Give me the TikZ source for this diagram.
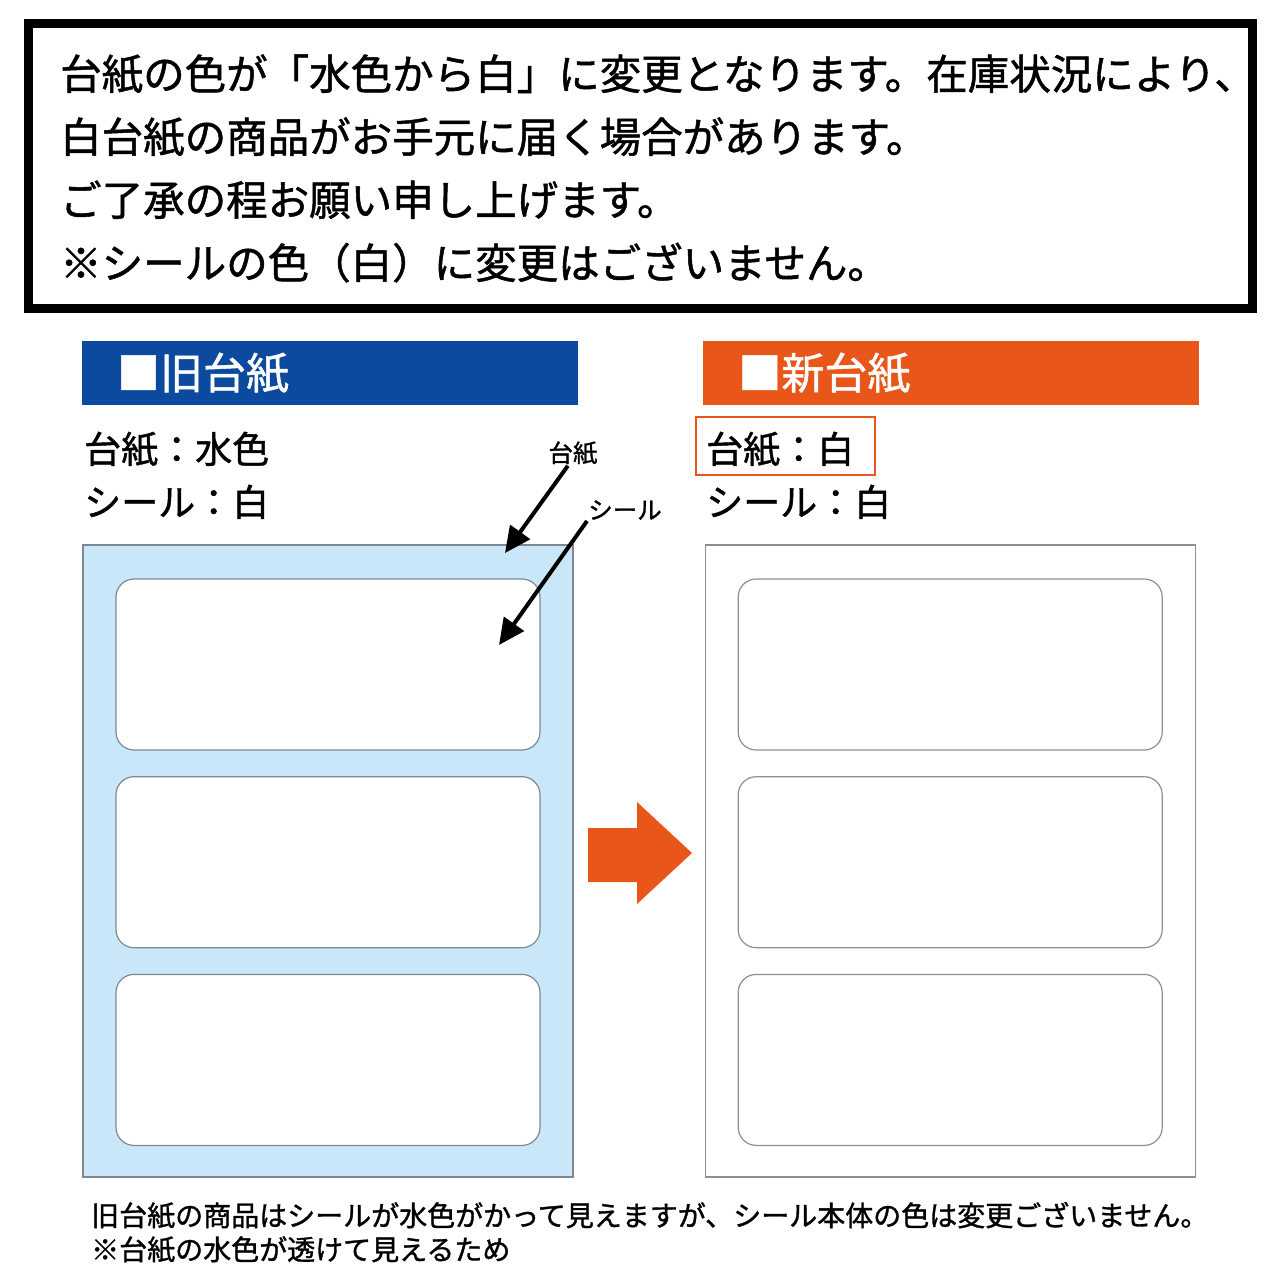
\documentclass[tikz,border=0pt]{standalone}
\usepackage{fontspec}
\setmainfont{Noto Sans CJK JP}[UprightFeatures={FakeBold=1.2}]
\usetikzlibrary{arrows.meta}
\usetikzlibrary{positioning}

\definecolor{oldblue}{HTML}{0B4A9E}
\definecolor{neworange}{HTML}{E8561A}
\definecolor{mizuiro}{HTML}{C9E7F9}
\definecolor{rimgray}{HTML}{7D8893}
\definecolor{newgray}{HTML}{8F8F8F}

\begin{document}
\begin{tikzpicture}[x=1pt,y=-1pt,
    headbar/.style={rectangle,minimum width=496pt,minimum height=64pt,inner ysep=0pt,inner xsep=35pt,
                    text width=426pt,align=left,text=white,font=\fontsize{43}{50}\selectfont},
    infotext/.style={anchor=base west,inner sep=0pt,font=\fontsize{37}{44}\selectfont},
    tagtext/.style={inner sep=1pt,font=\fontsize{24.5}{30}\selectfont},
    sheet/.style={rectangle,minimum width=490pt,minimum height=632pt,line width=1.2pt},
    sticker/.style={rectangle,rounded corners=18pt,minimum width=424pt,minimum height=171pt,
                    fill=white,line width=1.2pt}]
\useasboundingbox (0,0) rectangle (1280,1280);

% notice
\node[draw,line width=9pt,minimum width=1224pt,minimum height=285pt,inner sep=0pt] (notice) at (640,166) {};
\begin{scope}[every node/.style={anchor=base west,inner sep=0pt,font=\fontsize{41.5}{50}\selectfont}]
    \node (noteA) at (60,89.5) {台紙の色が「水色から白」に変更となります。在庫状況により、};
    \node (noteB) at (60,152.5) {白台紙の商品がお手元に届く場合があります。};
    \node (noteC) at (60,215.5) {ご了承の程お願い申し上げます。};
    \node (noteD) at (60,278.5) {※シールの色（白）に変更はございません。};
\end{scope}

% headers
\node[headbar,fill=oldblue] (oldHead) at (330,373) {■旧台紙};
\node[headbar,fill=neworange,right=125pt of oldHead] (newHead) {■新台紙};

% labels
\node[infotext] (oldDai) at (84,463) {台紙：水色};
\node[infotext] (oldSeal) at (84,516) {シール：白};
\node[infotext] (newDai) at (706,463) {台紙：白};
\node[infotext] (newSeal) at (706,516) {シール：白};
\node[draw=neworange,line width=2.5pt,minimum width=179pt,minimum height=58pt] (newMark) at (785.5,446) {};

% sheets
\node[sheet,fill=mizuiro,draw=rimgray] (oldSheet) at (328,861) {};
\node[sticker,draw=rimgray,below=34pt of oldSheet.north] (oldStA) {};
\node[sticker,draw=rimgray,below=25.5pt of oldStA] (oldStB) {};
\node[sticker,draw=rimgray,below=25.5pt of oldStB] (oldStC) {};

\node[sheet,fill=white,draw=newgray,right=131pt of oldSheet] (newSheet) {};
\node[sticker,draw=newgray,below=34pt of newSheet.north] (newStA) {};
\node[sticker,draw=newgray,below=25.5pt of newStA] (newStB) {};
\node[sticker,draw=newgray,below=25.5pt of newStB] (newStC) {};

% pointers
\node[tagtext] (tagDai) at (573,453) {台紙};
\node[tagtext] (tagSeal) at (625,510) {シール};
\coordinate (tipDai) at (505,553);
\coordinate (tipSeal) at (499,645);
\begin{scope}[>={Triangle[length=26pt,width=24pt]},
              every edge/.style={draw,line width=4pt}]
    \path [->] (tagDai.-112) edge (tipDai);
    \path [->] (tagSeal.south west) edge (tipSeal);
\end{scope}

% big arrow
\fill[neworange] (588,828) -- (637,828) -- (637,802) -- (692,853) -- (637,904) -- (637,882) -- (588,882) -- cycle;

% footnote
\begin{scope}[every node/.style={anchor=base west,inner sep=0pt,font=\fontsize{28}{34}\selectfont}]
    \node (footA) at (91,1226) {旧台紙の商品はシールが水色がかって見えますが、シール本体の色は変更ございません。};
    \node (footB) at (91,1260) {※台紙の水色が透けて見えるため};
\end{scope}
\end{tikzpicture}
\end{document}
